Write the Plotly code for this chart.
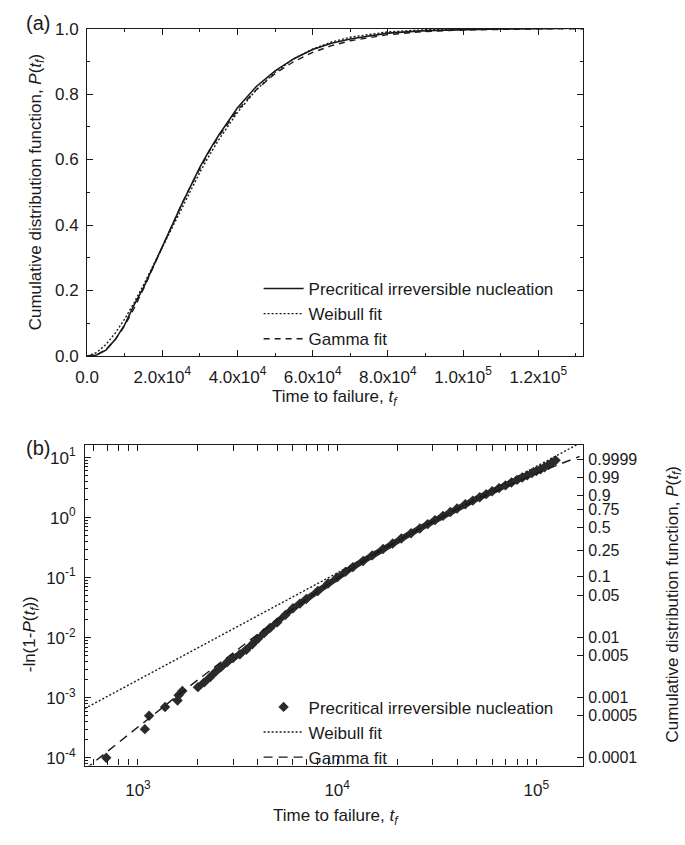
import math
import plotly.graph_objects as go

W, H = 685, 845
FONT = "Liberation Sans, Arial, sans-serif"
INK = "#1a1a1a"
FS = 17

# ---------------- Panel (a) data: cumulative distribution vs time ----------------
t_a = [0, 2500, 5000, 7500, 10000, 12500, 15000, 17500, 20000, 22500, 25000, 27500,
       30000, 32500, 35000, 40000, 45000, 50000, 55000, 60000, 65000, 70000, 80000,
       90000, 100000, 110000, 120000, 125000]
P_sim_a = [0, 0.003, 0.018, 0.051, 0.096, 0.156, 0.209, 0.272, 0.336, 0.400, 0.459, 0.518,
           0.577, 0.628, 0.674, 0.758, 0.823, 0.871, 0.908, 0.936, 0.955, 0.968, 0.986,
           0.9936, 0.9974, 0.999, 0.9998, 1.0]

t_fit_a = [0, 2500, 5000, 7500, 10000, 12500, 15000, 17500, 20000, 22500, 25000, 27500,
           30000, 32500, 35000, 40000, 45000, 50000, 55000, 60000, 65000, 70000, 80000,
           90000, 100000, 110000, 120000, 132000]
P_weib_a = [0, 0.0106, 0.0352, 0.0703, 0.1135, 0.1631, 0.2174, 0.2746, 0.3333, 0.3924,
            0.4507, 0.5074, 0.5615, 0.6126, 0.6603, 0.7443, 0.8129, 0.8668, 0.9076, 0.9375,
            0.9588, 0.9735, 0.9898, 0.9964, 0.9989, 0.9997, 0.9999, 1.0]
P_gamma_a = [0, 0.0035, 0.0195, 0.0499, 0.0930, 0.1458, 0.2054, 0.2688, 0.3335, 0.3976,
             0.4599, 0.5185, 0.5735, 0.6248, 0.6706, 0.7505, 0.8134, 0.8627, 0.8992, 0.9271,
             0.9477, 0.9627, 0.9814, 0.9909, 0.9956, 0.9979, 0.9990, 0.9996]

xa_tickvals = [0, 20000, 40000, 60000, 80000, 100000, 120000]
xa_ticktext = ["0.0", "2.0x10<sup>4</sup>", "4.0x10<sup>4</sup>", "6.0x10<sup>4</sup>",
               "8.0x10<sup>4</sup>", "1.0x10<sup>5</sup>", "1.2x10<sup>5</sup>"]
ya_tickvals = [0.0, 0.2, 0.4, 0.6, 0.8, 1.0]
ya_ticktext = ["0.0", "0.2", "0.4", "0.6", "0.8", "1.0"]

# ---------------- Panel (b) data: -ln(1-P) vs time (log-log) ----------------
t_low = [693, 1083, 1137, 1368, 1580, 1600, 1670]
y_low = [1.0e-4, 3.0e-4, 5.0e-4, 7.0e-4, 9.0e-4, 1.1e-3, 1.3e-3]

t_band = [2000, 2150, 2300, 2450, 2600, 2800, 3000, 3250, 3500, 3750, 4000, 4300, 4600,
          5000, 5500, 6000, 6500, 7000, 8000, 9000, 10000, 11000, 12000, 13500, 15000,
          17000, 19000, 21000, 23500, 26000, 28500, 31000, 34000, 37000, 40000, 44000,
          48000, 52000, 56000, 60000, 65000, 70000, 75000, 80000, 85000, 90000, 95000,
          100000, 105000, 110000, 115000, 120000, 125000]
y_band = [1.5e-3, 1.8e-3, 2.2e-3, 2.7e-3, 3.2e-3, 3.9e-3, 4.6e-3, 5.3e-3, 6.3e-3, 7.8e-3,
          9.6e-3, 1.2e-2, 1.45e-2, 1.8e-2, 2.4e-2, 3.1e-2, 3.7e-2, 4.4e-2, 6.0e-2, 8.0e-2,
          0.101, 0.125, 0.150, 0.19, 0.235, 0.30, 0.37, 0.45, 0.55, 0.66, 0.78, 0.91, 1.07,
          1.24, 1.42, 1.67, 1.92, 2.18, 2.46, 2.75, 3.1, 3.45, 3.85, 4.25, 4.65, 5.05, 5.5,
          5.95, 6.4, 6.9, 7.5, 8.3, 9.0]

t_fit_b = [540, 700, 1000, 1500, 2000, 2500, 3000, 4000, 5000, 6000, 7000, 7500, 8000,
           9000, 10000, 12000, 15000, 20000, 25000, 30000, 40000, 50000, 60000, 70000,
           85000, 100000, 130000, 165000]
weib_b = [6.6e-4, 1.05e-3, 1.97e-3, 4.05e-3, 6.8e-3, 1.01e-2, 1.40e-2, 2.33e-2,
          3.50e-2, 4.84e-2, 6.37e-2, 7.20e-2, 8.08e-2, 0.0998, 0.1205, 0.1665, 0.2475,
          0.4115, 0.6110, 0.8430, 1.400, 2.077, 2.868, 3.768, 5.31, 7.08, 11.3, 17.3]
gamma_b = [6.37e-5, 1.272e-4, 3.27e-4, 9.47e-4, 1.994e-3, 3.526e-3, 5.60e-3, 1.146e-2,
           1.972e-2, 3.047e-2, 4.366e-2, 5.12e-2, 5.93e-2, 7.73e-2, 9.76e-2, 0.1446,
           0.2299, 0.4057, 0.6160, 0.8522, 1.388, 1.986, 2.619, 3.288, 4.338, 5.428, 7.69,
           10.44]

xb_tickvals = [1e3, 1e4, 1e5]
xb_ticktext = ["10<sup>3</sup>", "10<sup>4</sup>", "10<sup>5</sup>"]
yb_tickvals = [1e-4, 1e-3, 1e-2, 1e-1, 1e0, 1e1]
yb_ticktext = ["10<sup>-4</sup>", "10<sup>-3</sup>", "10<sup>-2</sup>", "10<sup>-1</sup>",
               "10<sup>0</sup>", "10<sup>1</sup>"]
P_right_labels = ["0.9999", "0.99", "0.9", "0.75", "0.5", "0.25", "0.1", "0.05", "0.01",
                  "0.005", "0.001", "0.0005", "0.0001"]
P_right_vals = [0.9999, 0.99, 0.9, 0.75, 0.5, 0.25, 0.1, 0.05, 0.01, 0.005, 0.001, 0.0005,
                0.0001]

right_tickvals = [-math.log(1 - p) for p in P_right_vals]
log_minor = [m * 10 ** e for e in range(-5, 6) for m in range(2, 10)]


def fx(p):
    return p / W


def fy(p):
    return 1 - p / H


fig = go.Figure()

# Panel (a)
fig.add_trace(go.Scatter(x=t_a, y=P_sim_a, mode="lines", name="Precritical irreversible nucleation",
                         line=dict(color=INK, width=1.6), xaxis="x", yaxis="y", legend="legend"))
fig.add_trace(go.Scatter(x=t_fit_a, y=P_weib_a, mode="lines", name="Weibull fit",
                         line=dict(color=INK, width=1.4, dash="2px,2px"), xaxis="x", yaxis="y",
                         legend="legend"))
fig.add_trace(go.Scatter(x=t_fit_a, y=P_gamma_a, mode="lines", name="Gamma fit",
                         line=dict(color=INK, width=1.4, dash="6px,5px"), xaxis="x", yaxis="y",
                         legend="legend"))

# Panel (b)
fig.add_trace(go.Scatter(x=t_band, y=y_band, mode="lines+markers", showlegend=False,
                         line=dict(color="#2a2a2a", width=6),
                         marker=dict(symbol="diamond", size=8, color="#2a2a2a"),
                         xaxis="x2", yaxis="y2", legend="legend2"))
fig.add_trace(go.Scatter(x=t_low, y=y_low, mode="markers", name="Precritical irreversible nucleation",
                         marker=dict(symbol="diamond", size=8, color="#2a2a2a"),
                         xaxis="x2", yaxis="y2", legend="legend2"))
fig.add_trace(go.Scatter(x=t_fit_b, y=weib_b, mode="lines", name="Weibull fit",
                         line=dict(color=INK, width=1.4, dash="2px,2px"), xaxis="x2", yaxis="y2",
                         legend="legend2"))
fig.add_trace(go.Scatter(x=t_fit_b, y=gamma_b, mode="lines", name="Gamma fit",
                         line=dict(color=INK, width=1.4, dash="9px,6px"), xaxis="x2", yaxis="y2",
                         legend="legend2"))
# invisible carrier for right-hand probability axis
fig.add_trace(go.Scatter(x=t_band[:1], y=y_band[:1], mode="markers", showlegend=False,
                         marker=dict(opacity=0), hoverinfo="skip", xaxis="x2", yaxis="y3"))

tickfont = dict(family=FONT, size=FS, color=INK)
common = dict(showline=True, linecolor=INK, linewidth=1.3, showgrid=False, zeroline=False,
              ticks="inside", tickcolor=INK, tickwidth=1.2, tickfont=tickfont)

fig.update_layout(
    width=W, height=H, margin=dict(l=0, r=0, t=0, b=0),
    paper_bgcolor="white", plot_bgcolor="white",
    font=dict(family=FONT, size=FS, color=INK),
    xaxis=dict(domain=[fx(76.5), fx(581.5)], anchor="y", range=[0, 132000],
               tickmode="array", tickvals=xa_tickvals, ticktext=xa_ticktext, ticklen=6,
               mirror="allticks", ticklabelstandoff=5,
               minor=dict(ticks="inside", ticklen=3, dtick=10000, tick0=0, tickcolor=INK,
                          showgrid=False),
               **common),
    yaxis=dict(domain=[fy(355), fy(20)], anchor="x", range=[0, 1],
               tickmode="array", tickvals=ya_tickvals, ticktext=ya_ticktext, ticklen=6,
               mirror="allticks", ticklabelstandoff=4,
               minor=dict(ticks="inside", ticklen=3, dtick=0.1, tick0=0, tickcolor=INK,
                          showgrid=False),
               **common),
    xaxis2=dict(domain=[fx(74.5), fx(581.5)], anchor="y2", type="log", range=[2.735, 5.236],
                tickmode="array", tickvals=xb_tickvals, ticktext=xb_ticktext, ticklen=6,
                mirror="allticks", ticklabelstandoff=9,
                minor=dict(ticks="inside", ticklen=3, tickmode="array", tickvals=log_minor,
                           tickcolor=INK, showgrid=False),
                **common),
    yaxis2=dict(domain=[fy(774), fy(446)], anchor="x2", type="log", range=[-4.13, 1.21],
                tickmode="array", tickvals=yb_tickvals, ticktext=yb_ticktext, ticklen=6,
                mirror=True, ticklabelstandoff=5,
                minor=dict(ticks="inside", ticklen=3, tickmode="array", tickvals=log_minor,
                           tickcolor=INK, showgrid=False),
                **common),
    yaxis3=dict(overlaying="y2", side="right", anchor="x2", type="log", range=[-4.13, 1.21],
                tickmode="array", tickvals=right_tickvals, ticktext=P_right_labels,
                showline=False, showgrid=False, zeroline=False, ticks="inside", ticklen=6,
                tickcolor=INK, tickwidth=1.2, tickfont=dict(family=FONT, size=16, color=INK),
                ticklabelstandoff=4),
    legend=dict(x=fx(251), y=fy(268), xanchor="left", yanchor="top", bgcolor="rgba(0,0,0,0)",
                font=dict(family=FONT, size=FS, color=INK), tracegroupgap=0, itemwidth=40),
    legend2=dict(x=fx(251), y=fy(696), xanchor="left", yanchor="top", bgcolor="rgba(0,0,0,0)",
                 font=dict(family=FONT, size=FS, color=INK), tracegroupgap=0, itemwidth=40),
    showlegend=True,
)

ann_font = dict(family=FONT, size=FS, color=INK)
annotations = [
    dict(x=fx(26), y=fy(14), text="(a)", showarrow=False, font=dict(family=FONT, size=20, color=INK)),
    dict(x=fx(26), y=fy(449), text="(b)", showarrow=False, font=dict(family=FONT, size=20, color=INK)),
    dict(x=fx(25), y=fy(188), text="Cumulative distribution function, <i>P</i>(<i>t</i><sub><i>f</i></sub>)",
         textangle=-90, showarrow=False, font=ann_font),
    dict(x=fx(329), y=fy(398), text="Time to failure, <i>t</i><sub><i>f</i></sub>",
         showarrow=False, font=ann_font),
    dict(x=fx(19), y=fy(640), text="-ln(1-<i>P</i>(<i>t</i><sub><i>f</i></sub>))",
         textangle=-90, showarrow=False, font=ann_font),
    dict(x=fx(330), y=fy(827), text="Time to failure, <i>t</i><sub><i>f</i></sub>",
         showarrow=False, font=ann_font),
    dict(x=fx(674), y=fy(609), text="Cumulative distribution function, <i>P</i>(<i>t</i><sub><i>f</i></sub>)",
         textangle=-90, showarrow=False, font=ann_font),
]
for a in annotations:
    a.update(xref="paper", yref="paper", xanchor="center", yanchor="middle")
fig.update_layout(annotations=annotations)

fig.write_html("out.html")
